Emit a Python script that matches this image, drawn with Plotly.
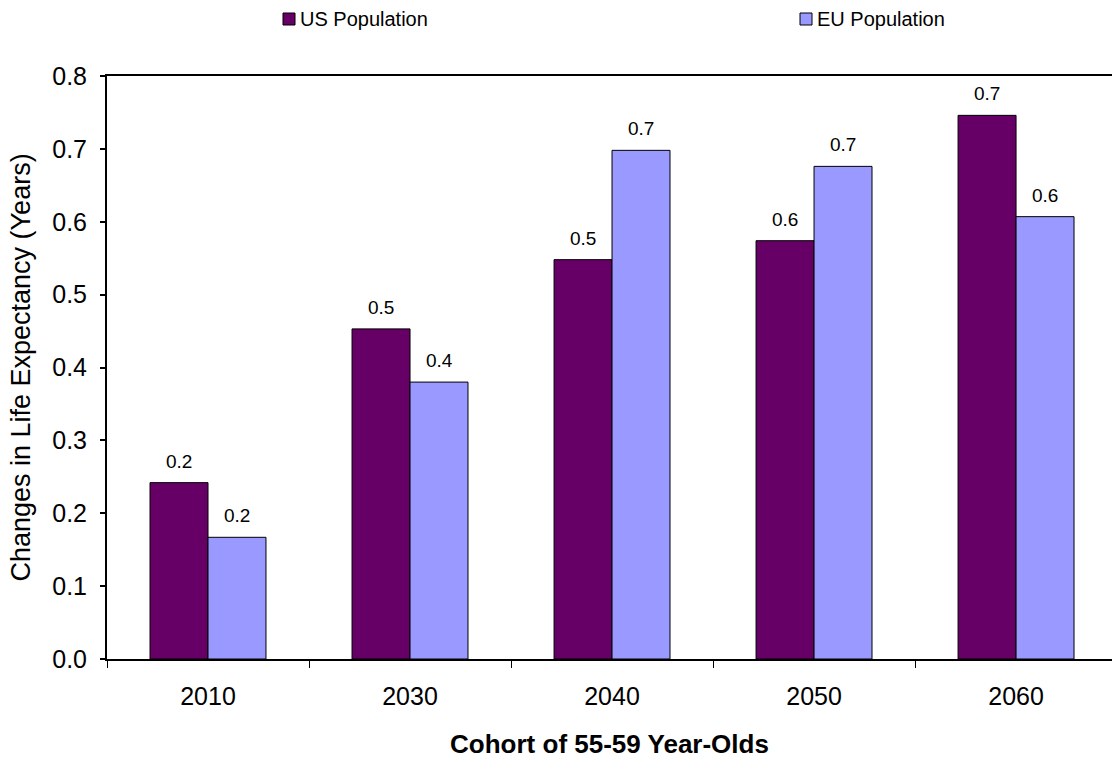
import plotly.graph_objects as go

# Cohorts and projected changes in life expectancy (years)
cohorts = ["2010", "2030", "2040", "2050", "2060"]
us_values = [0.242, 0.453, 0.548, 0.574, 0.746]
eu_values = [0.167, 0.380, 0.698, 0.676, 0.607]
series_names = ["US Population", "EU Population"]
y_ticks = [0.0, 0.1, 0.2, 0.3, 0.4, 0.5, 0.6, 0.7, 0.8]

US_COLOR = "#660066"
EU_COLOR = "#9999FF"
FONT = "Liberation Sans, Arial, sans-serif"
BARGAP = 0.426

# plot-area geometry (pixels) used to place the hand-drawn legend
W, H = 1112, 761
L, R, T, B = 107, 0, 76, 102
PW, PH = W - L - R, H - T - B


def px_x(px):
    return (px - L) / PW


def px_y(py):
    return (H - B - py) / PH


fig = go.Figure()
for name, vals, color in ((series_names[0], us_values, US_COLOR),
                          (series_names[1], eu_values, EU_COLOR)):
    fig.add_trace(go.Bar(
        name=name, x=cohorts, y=vals, showlegend=False,
        marker=dict(color=color, line=dict(color="black", width=1)),
    ))

# value labels above each bar (bar centres sit a quarter of the group width off-centre)
offset = (1 - BARGAP) / 4
for i in range(len(cohorts)):
    for vals, sign in ((us_values, -1), (eu_values, 1)):
        fig.add_annotation(
            xref="x", yref="y", x=i + sign * offset, y=vals[i],
            text=f"{vals[i]:.1f}", showarrow=False,
            yshift=9, yanchor="bottom", xanchor="center",
            font=dict(family=FONT, size=19, color="black"),
        )

# legend drawn as swatches + labels along the top
legend_items = [(series_names[0], US_COLOR, 283), (series_names[1], EU_COLOR, 800)]
for name, color, x0 in legend_items:
    fig.add_shape(
        type="rect", xref="paper", yref="paper",
        x0=px_x(x0), x1=px_x(x0 + 12), y0=px_y(25), y1=px_y(13),
        fillcolor=color, line=dict(color="black", width=1),
    )
    fig.add_annotation(
        xref="paper", yref="paper", x=px_x(x0 + 15), y=px_y(19),
        text=name, showarrow=False, xanchor="left", yanchor="middle",
        font=dict(family=FONT, size=20, color="black"),
    )

fig.update_layout(
    width=W, height=H,
    margin=dict(l=L, r=R, t=T, b=B),
    paper_bgcolor="white", plot_bgcolor="white",
    barmode="group", bargap=BARGAP, bargroupgap=0,
    font=dict(family=FONT, color="black"),
    showlegend=False,
    xaxis=dict(
        type="category", range=[-0.5, 4.475], showgrid=False,
        showline=True, linecolor="black", linewidth=1.5, mirror=True,
        ticks="outside", tickson="boundaries", ticklen=7, tickcolor="black",
        tickfont=dict(size=25, family=FONT), ticklabelstandoff=14,
        title=dict(text="<b>Cohort of 55-59 Year-Olds</b>",
                   font=dict(size=26, family=FONT), standoff=26),
    ),
    yaxis=dict(
        range=[0, 0.8], tickvals=y_ticks, tickformat=".1f", showgrid=False,
        showline=True, linecolor="black", linewidth=2,
        ticks="outside", ticklen=5, tickcolor="black", tickwidth=2,
        tickfont=dict(size=25, family=FONT), ticklabelstandoff=8,
        title=dict(text="Changes in Life Expectancy (Years)",
                   font=dict(size=27, family=FONT), standoff=14),
        zeroline=False,
    ),
)

fig.write_html("out.html")
